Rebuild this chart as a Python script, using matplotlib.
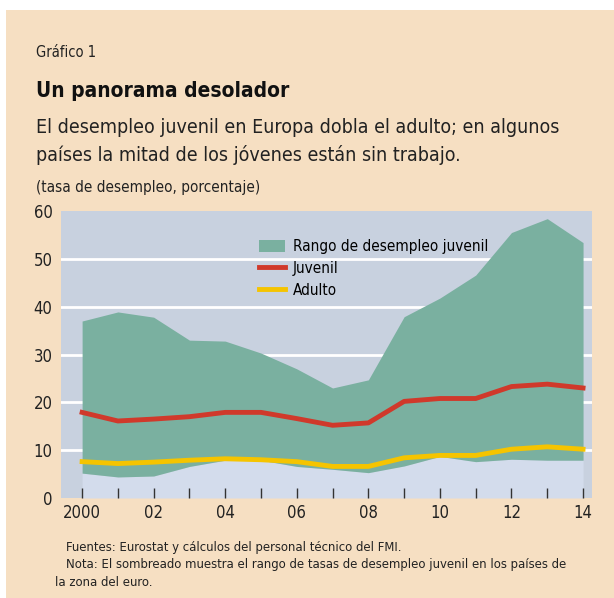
import numpy as np
import matplotlib.pyplot as plt
from matplotlib.patches import Rectangle, Patch
from matplotlib.lines import Line2D

plt.rcParams['font.family'] = ['DejaVu Sans']
plt.rcParams['font.stretch'] = 'condensed'

# data
years = list(range(2000, 2015))
rango_max = [37.0, 38.9, 37.8, 33.0, 32.8, 30.3, 27.0, 23.0, 24.7, 37.9, 41.8, 46.6, 55.5, 58.4, 53.4]
rango_min = [5.2, 4.4, 4.6, 6.6, 7.9, 7.9, 6.6, 6.0, 5.3, 6.7, 8.7, 7.6, 8.1, 7.9, 7.9]
juvenil = [17.9, 16.1, 16.5, 17.0, 17.9, 17.9, 16.6, 15.2, 15.7, 20.2, 20.8, 20.8, 23.3, 23.8, 23.0]
adulto = [7.6, 7.2, 7.5, 7.9, 8.2, 8.0, 7.6, 6.6, 6.6, 8.4, 8.9, 8.9, 10.2, 10.7, 10.2]
xlabels = ['2000', '', '02', '', '04', '', '06', '', '08', '', '10', '', '12', '', '14']

beige = '#f6dfc2'
axbg = '#c8d1df'
light = '#d3dcec'
green = '#7ab0a0'
red = '#d0392b'
yellow = '#f5c400'

W, H = 614, 598
fig = plt.figure(figsize=(W / 100, H / 100), dpi=100)
fig.patch.set_facecolor('white')
fig.add_artist(Rectangle((6 / W, 0), 1, (H - 10) / H, transform=fig.transFigure,
                         facecolor=beige, edgecolor='none', zorder=0))

def fy(py):
    return 1 - py / H

fig.text(36 / W, fy(57), 'Gráfico 1', fontsize=10.5, color='#222222', va='baseline')
fig.text(36 / W, fy(97), 'Un panorama desolador', fontsize=15, fontweight='bold',
         color='#111111', va='baseline')
fig.text(36 / W, fy(133), 'El desempleo juvenil en Europa dobla el adulto; en algunos',
         fontsize=14, color='#222222', va='baseline')
fig.text(36 / W, fy(161), 'países la mitad de los jóvenes están sin trabajo.',
         fontsize=14, color='#222222', va='baseline')
fig.text(36 / W, fy(192), '(tasa de desempleo, porcentaje)', fontsize=11,
         color='#222222', va='baseline')
fig.text(66 / W, fy(551), 'Fuentes: Eurostat y cálculos del personal técnico del FMI.',
         fontsize=9.4, color='#222222', va='baseline')
fig.text(66 / W, fy(568), 'Nota: El sombreado muestra el rango de tasas de desempleo juvenil en los países de',
         fontsize=9.4, color='#222222', va='baseline')
fig.text(55 / W, fy(586), 'la zona del euro.', fontsize=9.4, color='#222222', va='baseline')

ax = fig.add_axes([61 / W, 1 - 498 / H, (592 - 61) / W, (498 - 211) / H])
ax.set_facecolor(axbg)
ax.set_xlim(1999.41, 2014.25)
ax.set_ylim(0, 60)

for g in range(10, 60, 10):
    ax.axhline(g, color='white', lw=2, zorder=1)

ax.fill_between(years, 0, rango_min, color=light, lw=0, zorder=2)
ax.fill_between(years, rango_min, rango_max, color=green, lw=0, zorder=3)
ax.plot(years, juvenil, color=red, lw=3.5, zorder=4)
ax.plot(years, adulto, color=yellow, lw=3.5, zorder=4)

for s in ax.spines.values():
    s.set_visible(False)
ax.xaxis.set_zorder(5)
ax.set_xticks(years)
ax.set_xticklabels(xlabels)
ax.set_yticks(range(0, 61, 10))
ax.tick_params(axis='x', direction='in', length=7, width=1, color='#333333',
               labelsize=12, pad=4, labelcolor='#222222')
ax.tick_params(axis='y', length=0, labelsize=12, pad=6, labelcolor='#222222')

handles = [Patch(facecolor=green, edgecolor='none'),
           Line2D([], [], color=red, lw=3.5),
           Line2D([], [], color=yellow, lw=3.5)]
labels = ['Rango de desempleo juvenil', 'Juvenil', 'Adulto']
ax.legend(handles, labels, loc='upper left', bbox_to_anchor=(259 / W, fy(239)),
          bbox_transform=fig.transFigure, frameon=False, fontsize=11,
          handlelength=1.7, handleheight=0.8, handletextpad=0.5, labelspacing=0.45,
          borderaxespad=0, borderpad=0)

fig.savefig('out.png', dpi=100, facecolor=fig.get_facecolor())
